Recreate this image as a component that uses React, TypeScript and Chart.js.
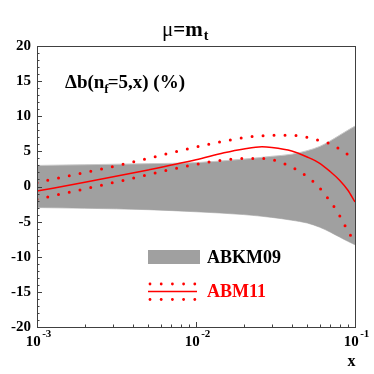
import React, { useEffect, useRef } from "react";
import { Chart, registerables } from "chart.js";

Chart.register(...registerables);

// ABKM09 uncertainty band
const bandX = [0.001, 0.002, 0.005, 0.01, 0.02, 0.03, 0.04, 0.05, 0.06, 0.07, 0.08, 0.09, 0.1];
const bandUpper = [3.0, 3.1, 3.25, 3.4, 3.9, 4.3, 4.6, 5.1, 5.7, 6.5, 7.3, 8.0, 8.6];
const bandLower = [-3.0, -3.1, -3.3, -3.6, -4.0, -4.4, -4.8, -5.2, -5.8, -6.5, -7.2, -7.8, -8.3];

// ABM11 central
const centralX = [0.001, 0.002, 0.005, 0.01, 0.015, 0.02, 0.026, 0.03, 0.04, 0.05, 0.06, 0.07, 0.08, 0.09, 0.1];
const centralY = [-0.65, 0.6, 2.35, 3.8, 4.8, 5.35, 5.65, 5.55, 5.05, 4.2, 3.3, 2.1, 0.9, -0.5, -2.2];

// ABM11 upper bound
const upperX = [0.001, 0.0037, 0.007, 0.0131, 0.0213, 0.0295, 0.0346, 0.0406, 0.0475, 0.056, 0.0658, 0.0759, 0.0866, 0.1];
const upperY = [0.55, 3.3, 4.8, 6.2, 7.04, 7.28, 7.3, 7.28, 7.1, 6.7, 6.3, 5.66, 4.8, 3.87];

// ABM11 lower bound
const lowerX = [0.001, 0.0037, 0.007, 0.0131, 0.02, 0.025, 0.0295, 0.0346, 0.0406, 0.0462, 0.0528, 0.0597, 0.0658, 0.0724, 0.0794, 0.0857, 0.093, 0.1];
const lowerY = [-1.82, 1.0, 2.45, 3.6, 4.0, 4.0, 3.85, 3.4, 2.7, 1.96, 1.0, -0.17, -1.35, -2.6, -4.0, -5.4, -6.8, -8.2];

const yTicks = [-20, -15, -10, -5, 0, 5, 10, 15, 20];
const xDecades = [-3, -2, -1];

const FONT = "'Liberation Serif', 'Times New Roman', 'DejaVu Serif', serif";
const RED = "#ff0000";
const GRAY = "#a0a0a0";

const pts = (xs: number[], ys: number[]) => xs.map((x, i) => ({ x, y: ys[i] }));

const decorPlugin = {
  id: "decor",
  afterDraw(chart: any) {
    const ctx = chart.ctx as CanvasRenderingContext2D;
    const { left, right, top, bottom } = chart.chartArea;
    const xs = chart.scales.x;
    const ys = chart.scales.y;
    ctx.save();
    // frame
    ctx.strokeStyle = "#404040";
    ctx.lineWidth = 1;
    ctx.strokeRect(Math.round(left) + 0.5, Math.round(top) + 0.5, Math.round(right - left), Math.round(bottom - top));
    // y ticks
    ctx.beginPath();
    for (let v = -20; v <= 20; v += 1) {
      const py = Math.round(ys.getPixelForValue(v)) + 0.5;
      const len = v % 5 === 0 ? 5 : 2.5;
      ctx.moveTo(left, py);
      ctx.lineTo(left + len, py);
    }
    // x ticks
    for (let d = -3; d <= -1; d++) {
      for (let m = 1; m <= 9; m++) {
        const val = m * Math.pow(10, d);
        if (val > 0.1 + 1e-9) break;
        const px = Math.round(xs.getPixelForValue(val)) + 0.5;
        const len = m === 1 ? 5 : 2.5;
        ctx.moveTo(px, bottom);
        ctx.lineTo(px, bottom - len);
      }
    }
    ctx.stroke();

    // y labels
    ctx.fillStyle = "#000";
    ctx.font = `bold 15px ${FONT}`;
    ctx.textAlign = "right";
    ctx.textBaseline = "middle";
    yTicks.forEach((v) => {
      ctx.fillText(String(v), 31, ys.getPixelForValue(v));
    });

    // x labels (10^d, centred on the tick)
    ctx.textAlign = "left";
    ctx.textBaseline = "alphabetic";
    xDecades.forEach((d) => {
      const px = xs.getPixelForValue(Math.pow(10, d));
      ctx.font = `bold 15px ${FONT}`;
      const w10 = ctx.measureText("10").width;
      ctx.font = `bold 11px ${FONT}`;
      const wS = ctx.measureText(String(d)).width;
      const start = px + 1.5 - (w10 + 1.5 + wS) / 2;
      ctx.font = `bold 15px ${FONT}`;
      ctx.fillText("10", start, 346);
      ctx.font = `bold 11px ${FONT}`;
      ctx.fillText(String(d), start + w10 + 1.5, 337);
    });
    ctx.font = `bold 16px ${FONT}`;
    ctx.textAlign = "center";
    ctx.fillText("x", 351.5, 366);

    // title
    ctx.textAlign = "left";
    ctx.textBaseline = "alphabetic";
    ctx.font = `21px ${FONT}`;
    let tx = 162;
    ctx.fillText("\u03bc", tx, 36);
    tx += ctx.measureText("\u03bc").width;
    ctx.font = `bold 21px ${FONT}`;
    ctx.fillText("=m", tx, 36);
    tx += ctx.measureText("=m").width;
    ctx.font = `bold 14px ${FONT}`;
    ctx.fillText("t", tx + 1, 40);

    // inner label
    ctx.font = `bold 19px ${FONT}`;
    let lx = 65;
    const ly = 88;
    ctx.fillText("\u0394b(n", lx, ly);
    lx += ctx.measureText("\u0394b(n").width;
    ctx.font = `bold 13px ${FONT}`;
    ctx.fillText("f", lx, ly + 5);
    lx += ctx.measureText("f").width - 1;
    ctx.font = `bold 19px ${FONT}`;
    ctx.fillText("=5,x) (%)", lx, ly);

    // legend
    ctx.fillStyle = GRAY;
    ctx.fillRect(148, 250, 52, 14);
    ctx.fillStyle = "#000";
    ctx.font = `bold 18px ${FONT}`;
    ctx.textBaseline = "middle";
    ctx.fillText("ABKM09", 207, 258);

    ctx.strokeStyle = RED;
    ctx.lineWidth = 1.5;
    ctx.beginPath();
    ctx.moveTo(148, 291.5);
    ctx.lineTo(197, 291.5);
    ctx.stroke();
    ctx.fillStyle = RED;
    for (let i = 0; i < 5; i++) {
      const dx = 150 + i * 11.2;
      ctx.beginPath();
      ctx.arc(dx, 284, 1.4, 0, Math.PI * 2);
      ctx.fill();
      ctx.beginPath();
      ctx.arc(dx, 299.5, 1.4, 0, Math.PI * 2);
      ctx.fill();
    }
    ctx.fillText("ABM11", 207, 292);
    ctx.restore();
  },
};

export default function App() {
  const ref = useRef<HTMLCanvasElement | null>(null);
  useEffect(() => {
    if (!ref.current) return;
    const dotted = {
      borderColor: RED,
      borderWidth: 3,
      borderDash: [0, 11],
      borderCapStyle: "round" as const,
      pointRadius: 0,
      fill: false,
      order: 0,
      cubicInterpolationMode: "monotone" as const,
    };
    const chart = new Chart(ref.current, {
      type: "line",
      data: {
        datasets: [
          {
            label: "ABKM09 up",
            data: pts(bandX, bandUpper),
            borderColor: "#c8c8c8",
            borderWidth: 1,
            backgroundColor: GRAY,
            pointRadius: 0,
            fill: "+1",
            order: 10,
            cubicInterpolationMode: "monotone",
          },
          {
            label: "ABKM09 low",
            data: pts(bandX, bandLower),
            borderColor: "#c8c8c8",
            borderWidth: 1,
            pointRadius: 0,
            fill: false,
            order: 10,
            cubicInterpolationMode: "monotone",
          },
          {
            label: "ABM11",
            data: pts(centralX, centralY),
            borderColor: RED,
            borderWidth: 1.5,
            pointRadius: 0,
            fill: false,
            order: 0,
            cubicInterpolationMode: "monotone",
          },
          { label: "ABM11 up", data: pts(upperX, upperY), ...dotted },
          { label: "ABM11 low", data: pts(lowerX, lowerY), ...dotted },
        ],
      },
      options: {
        responsive: false,
        animation: false,
        layout: { padding: { left: 37, right: 19, top: 46, bottom: 47 } },
        plugins: { legend: { display: false }, tooltip: { enabled: false }, title: { display: false } },
        scales: {
          x: { type: "logarithmic", min: 0.001, max: 0.1, display: false },
          y: { type: "linear", min: -20, max: 20, display: false },
        },
      },
      plugins: [decorPlugin],
    });
    let alive = true;
    const fonts = (document as any).fonts;
    if (fonts && fonts.load) {
      Promise.all([
        fonts.load(`bold 14px 'Liberation Serif'`),
        fonts.load(`14px 'Liberation Serif'`),
      ])
        .then(() => {
          if (alive) chart.update();
        })
        .catch(() => {});
    }
    return () => {
      alive = false;
      chart.destroy();
    };
  }, []);
  return (
    <div style={{ position: "fixed", left: 0, top: 0, width: 374, height: 374, background: "#fff" }}>
      <canvas ref={ref} width={374} height={374} />
    </div>
  );
}
